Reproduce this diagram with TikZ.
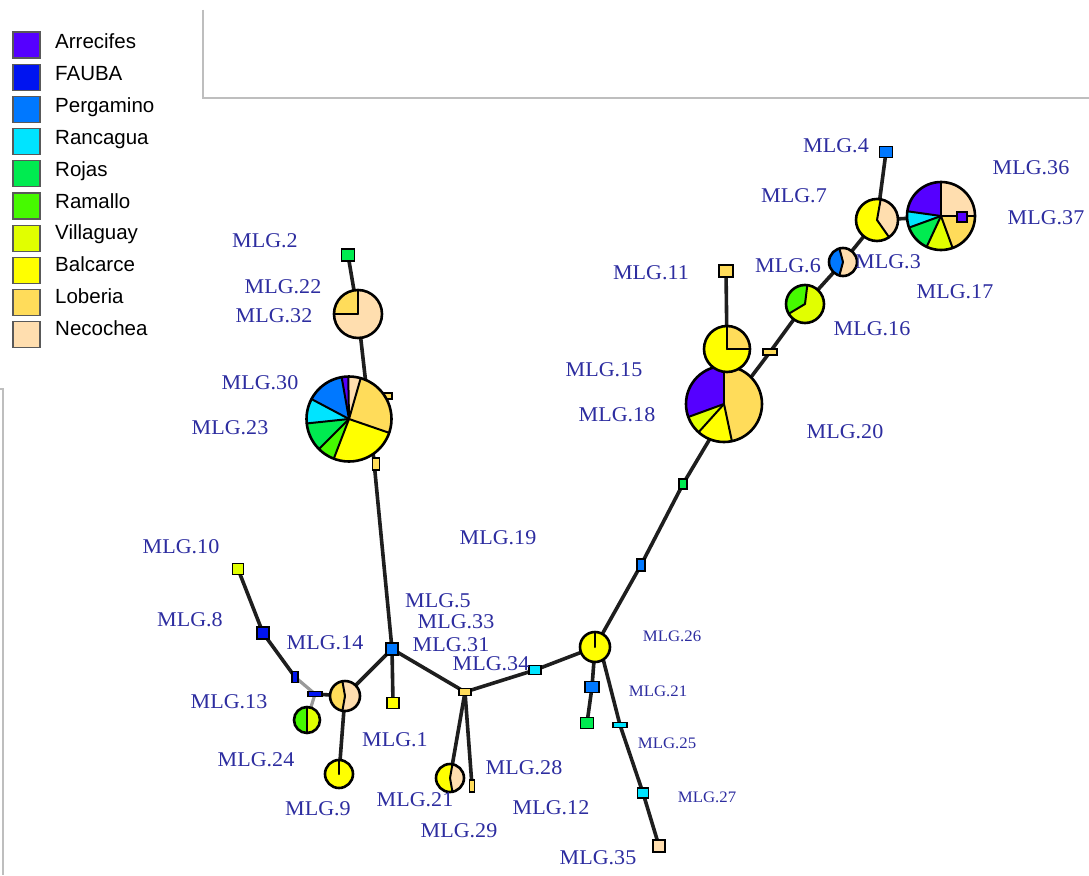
\documentclass[tikz,border=0pt]{standalone}
\usepackage{fontspec}
\setmainfont{Liberation Serif}
\newfontfamily\legfont{Liberation Sans}
\newfontfamily\mlgfont[FakeStretch=1.05]{Liberation Serif}
\definecolor{cArr}{RGB}{85,0,255}
\definecolor{cFau}{RGB}{0,20,240}
\definecolor{cPer}{RGB}{0,120,255}
\definecolor{cRan}{RGB}{0,228,255}
\definecolor{cRoj}{RGB}{0,235,80}
\definecolor{cRam}{RGB}{70,250,0}
\definecolor{cVil}{RGB}{225,255,0}
\definecolor{cBal}{RGB}{255,255,0}
\definecolor{cLob}{RGB}{255,220,90}
\definecolor{cNec}{RGB}{255,222,175}
\definecolor{lab}{RGB}{45,45,160}
\definecolor{framegrey}{RGB}{190,190,190}
\definecolor{edgecol}{RGB}{30,30,30}
\pgfdeclarelayer{bg}
\pgfsetlayers{bg,main}
\tikzset{
  edge/.style={draw=edgecol, line width=3.6pt},
  greyedge/.style={draw=black!40, line width=3.2pt},
  sepline/.style={draw=black, line width=2pt, line cap=round},
  pieline/.style={draw=black, line width=2.6pt},
  sq/.style={rectangle, draw=black, line width=1.8pt, inner sep=0pt},
  lbl/.style={text=lab, inner sep=0pt, font=\mlgfont\fontsize{21}{21}\selectfont},
  slbl/.style={text=lab, inner sep=0pt, font=\mlgfont\fontsize{16}{16}\selectfont},
  legsq/.style={rectangle, draw=black!65, line width=1.2pt, minimum width=27pt, minimum height=26pt, inner sep=0pt},
  legtxt/.style={anchor=base west, inner sep=0pt, font=\legfont\fontsize{20.5}{20.5}\selectfont},
  frame/.style={draw=framegrey, line width=1.2pt}
}
\newcommand{\drawpie}[3]{%
  \begin{scope}[shift={(#1)}]
    \foreach \sa/\sb/\sc in {#3} {
      \fill[\sc] (0,0) -- ({-\sa}:#2) arc[start angle={-\sa}, end angle={-\sb}, radius=#2] -- cycle;
    }
    \foreach \sa/\sb/\sc in {#3} { \draw[sepline] (0,0) -- ({-\sa}:#2); }
    \draw[pieline] (0,0) circle[radius=#2];
  \end{scope}}
\begin{document}
\begin{tikzpicture}[x=1pt,y=-1pt]
\useasboundingbox (0,0) rectangle (1089,875);
\begin{pgfonlayer}{bg}
\fill[white] (0,0) rectangle (1089,875);
\end{pgfonlayer}
% frame lines
\draw[frame] (203,10) -- (203,98) -- (1089,98);
\draw[frame] (0,389) -- (3,389) -- (3,875);
% legend
\foreach \i/\c/\t in {0/cArr/Arrecifes,1/cFau/FAUBA,2/cPer/Pergamino,3/cRan/Rancagua,4/cRoj/Rojas,5/cRam/Ramallo,6/cVil/Villaguay,7/cBal/Balcarce,8/cLob/Loberia,9/cNec/Necochea}{
  \node[legsq, fill=\c] (leg\i) at (26.5,{45+32.2*\i}) {};
  \node[legtxt] (legt\i) at (55,{48.5+31.9*\i}) {\t};
}
% pie centres and edge ports
\coordinate (A) at (349,419);
\coordinate (Ap) at (370,420);
\coordinate (B) at (358,314);
\coordinate (C) at (724,404);
\coordinate (Cp) at (730,405);
\coordinate (N15) at (727,349);
\coordinate (N16) at (805,304);
\coordinate (N6) at (843,262);
\coordinate (N7) at (877,220);
\coordinate (D) at (941,216);
\coordinate (N14) at (345,696);
\coordinate (N9) at (339,774);
\coordinate (N13) at (307,720);
\coordinate (N21b) at (450,778);
\coordinate (N26) at (595,647);
\coordinate (N26p) at (600,647);
% small nodes
\node[sq, fill=cRoj, minimum width=13pt, minimum height=12pt] (n2) at (348,255) {};
\node[sq, fill=cLob, minimum width=10pt, minimum height=6pt] (a1) at (387,396) {};
\node[sq, fill=cLob, minimum width=7pt, minimum height=12pt] (a2) at (376,464) {};
\node[sq, fill=cPer, minimum width=12pt, minimum height=12pt] (n5) at (392,649) {};
\node[sq, fill=cBal, minimum width=12pt, minimum height=11pt] (n1) at (393,703) {};
\node[sq, fill=cFau, minimum width=14pt, minimum height=5pt] (hb) at (315,694) {};
\node[sq, fill=cFau, minimum width=6pt, minimum height=11pt] (vb) at (295,677) {};
\node[sq, fill=cFau, minimum width=12pt, minimum height=12pt] (n8) at (263,633) {};
\node[sq, fill=cVil, minimum width=11pt, minimum height=11pt] (n10) at (238,569) {};
\node[sq, fill=cLob, minimum width=12pt, minimum height=7pt] (J) at (465,692) {};
\node[sq, fill=cRan, minimum width=12pt, minimum height=9pt] (n34) at (535,670) {};
\node[sq, fill=cLob, minimum width=5pt, minimum height=12pt] (b28) at (472,786) {};
\node[sq, fill=cPer, minimum width=14pt, minimum height=11pt] (n21r) at (592,687) {};
\node[sq, fill=cRoj, minimum width=13pt, minimum height=11pt] (ng) at (587,723) {};
\node[sq, fill=cRan, minimum width=14pt, minimum height=5pt] (n25) at (620,725) {};
\node[sq, fill=cRan, minimum width=11pt, minimum height=10pt] (n27) at (643,793) {};
\node[sq, fill=cNec, minimum width=12pt, minimum height=12pt] (n35) at (659,846) {};
\node[sq, fill=cPer, minimum width=8pt, minimum height=12pt] (nb) at (641,565) {};
\node[sq, fill=cRoj, minimum width=8pt, minimum height=10pt] (ng2) at (683,484) {};
\node[sq, fill=cLob, minimum width=14pt, minimum height=6pt] (b770) at (770,352) {};
\node[sq, fill=cLob, minimum width=14pt, minimum height=12pt] (n11) at (726,271) {};
\node[sq, fill=cPer, minimum width=13pt, minimum height=11pt] (n4) at (886,152) {};
\node[sq, fill=cRan, minimum width=12pt, minimum height=10pt] (nc) at (914,218) {};
% edges
\begin{pgfonlayer}{bg}
\draw[edge] (n2.center) -- (B);
\draw[edge] (B) -- (Ap);
\draw[edge] (Ap) -- (n5.center);
\draw[edge] (n5.center) -- (n1.center);
\draw[edge] (n5.center) -- (N14);
\draw[edge] (n5.center) -- (J.center);
\draw[edge] (N14) -- (N9);
\draw[edge] (N14) -- (hb.center);
\draw[greyedge] (hb.center) -- (vb.center);
\draw[greyedge] (hb.center) -- (N13);
\draw[edge] (vb.center) -- (n8.center);
\draw[edge] (n8.center) -- (n10.center);
\draw[edge] (J.center) -- (N21b);
\draw[edge] (J.center) -- (b28.center);
\draw[edge] (J.center) -- (n34.center);
\draw[edge] (n34.center) -- (N26);
\draw[edge] (N26) -- (n21r.center);
\draw[edge] (n21r.center) -- (ng.center);
\draw[edge] (N26p) -- (n25.center);
\draw[edge] (n25.center) -- (n27.center);
\draw[edge] (n27.center) -- (n35.center);
\draw[edge] (N26) -- (nb.center);
\draw[edge] (nb.center) -- (ng2.center);
\draw[edge] (ng2.center) -- (Cp);
\draw[edge] (N15) -- (n11.center);
\draw[edge] (Cp) -- (b770.center);
\draw[edge] (b770.center) -- (N16);
\draw[edge] (N16) -- (N6);
\draw[edge] (N6) -- (N7);
\draw[edge] (N7) -- (n4.center);
\draw[edge] (N7) -- (nc.center);
\draw[edge] (nc.center) -- (D);
\end{pgfonlayer}
% pies
\drawpie{A}{42.5}{341/434/cLob,74/91/cNec,91/100/cArr,100/152/cPer,152/186/cRan,186/225/cRoj,225/249/cRam,249/341/cBal}
\drawpie{B}{24}{180/450/cNec,90/180/cLob}
\drawpie{C}{38}{90/200/cArr,200/228/cVil,228/282/cBal,282/450/cLob}
\drawpie{N15}{23}{90/360/cBal,0/90/cLob}
\drawpie{N16}{19}{83/211/cRam,211/443/cVil}
\drawpie{N6}{14}{105/255/cPer,255/465/cNec}
\drawpie{N7}{21}{80/305/cBal,-55/80/cNec}
\drawpie{D}{34}{90/172/cArr,172/200/cRan,200/245/cRoj,245/290/cVil,290/360/cLob,0/90/cNec}
\drawpie{N14}{15}{100/260/cLob,260/460/cNec}
\drawpie{N9}{14}{90/450/cBal}
\drawpie{N13}{13}{90/270/cRam,270/450/cVil}
\drawpie{N21b}{14}{80/280/cBal,280/440/cNec}
\drawpie{N26}{15}{90/450/cBal}
\node[sq, fill=cArr, minimum width=10pt, minimum height=10pt] (n37) at (962,217) {};
% labels
\node[lbl] (l4) at (836,146) {MLG.4};
\node[lbl] (l36) at (1031,168) {MLG.36};
\node[lbl] (l7) at (794,196) {MLG.7};
\node[lbl] (l37) at (1046,218) {MLG.37};
\node[lbl] (l11) at (651,273) {MLG.11};
\node[lbl] (l6) at (788,266) {MLG.6};
\node[lbl] (l3) at (888,262) {MLG.3};
\node[lbl] (l17) at (955,292) {MLG.17};
\node[lbl] (l2) at (265,241) {MLG.2};
\node[lbl] (l22) at (283,287) {MLG.22};
\node[lbl] (l32) at (274,316) {MLG.32};
\node[lbl] (l16) at (872,329) {MLG.16};
\node[lbl] (l15) at (604,370) {MLG.15};
\node[lbl] (l30) at (260,383) {MLG.30};
\node[lbl] (l18) at (617,415) {MLG.18};
\node[lbl] (l23) at (230,428) {MLG.23};
\node[lbl] (l20) at (845,432) {MLG.20};
\node[lbl] (l19) at (498,538) {MLG.19};
\node[lbl] (l10) at (181,547) {MLG.10};
\node[lbl] (l8) at (190,620) {MLG.8};
\node[lbl] (l5) at (438,601) {MLG.5};
\node[lbl] (l33) at (456,622) {MLG.33};
\node[lbl] (l14) at (325,643) {MLG.14};
\node[lbl] (l31) at (451,645) {MLG.31};
\node[slbl] (l26) at (672,636) {MLG.26};
\node[lbl] (l34) at (491,664) {MLG.34};
\node[slbl] (l21r) at (658,691) {MLG.21};
\node[lbl] (l13) at (229,702) {MLG.13};
\node[lbl] (l1) at (395,740) {MLG.1};
\node[slbl] (l25) at (667,743) {MLG.25};
\node[lbl] (l24) at (256,760) {MLG.24};
\node[lbl] (l28) at (524,768) {MLG.28};
\node[lbl] (l9) at (318,809) {MLG.9};
\node[lbl] (l21b) at (415,800) {MLG.21};
\node[slbl] (l27) at (707,797) {MLG.27};
\node[lbl] (l12) at (551,808) {MLG.12};
\node[lbl] (l29) at (459,831) {MLG.29};
\node[lbl] (l35) at (598,858) {MLG.35};
\end{tikzpicture}
\end{document}
